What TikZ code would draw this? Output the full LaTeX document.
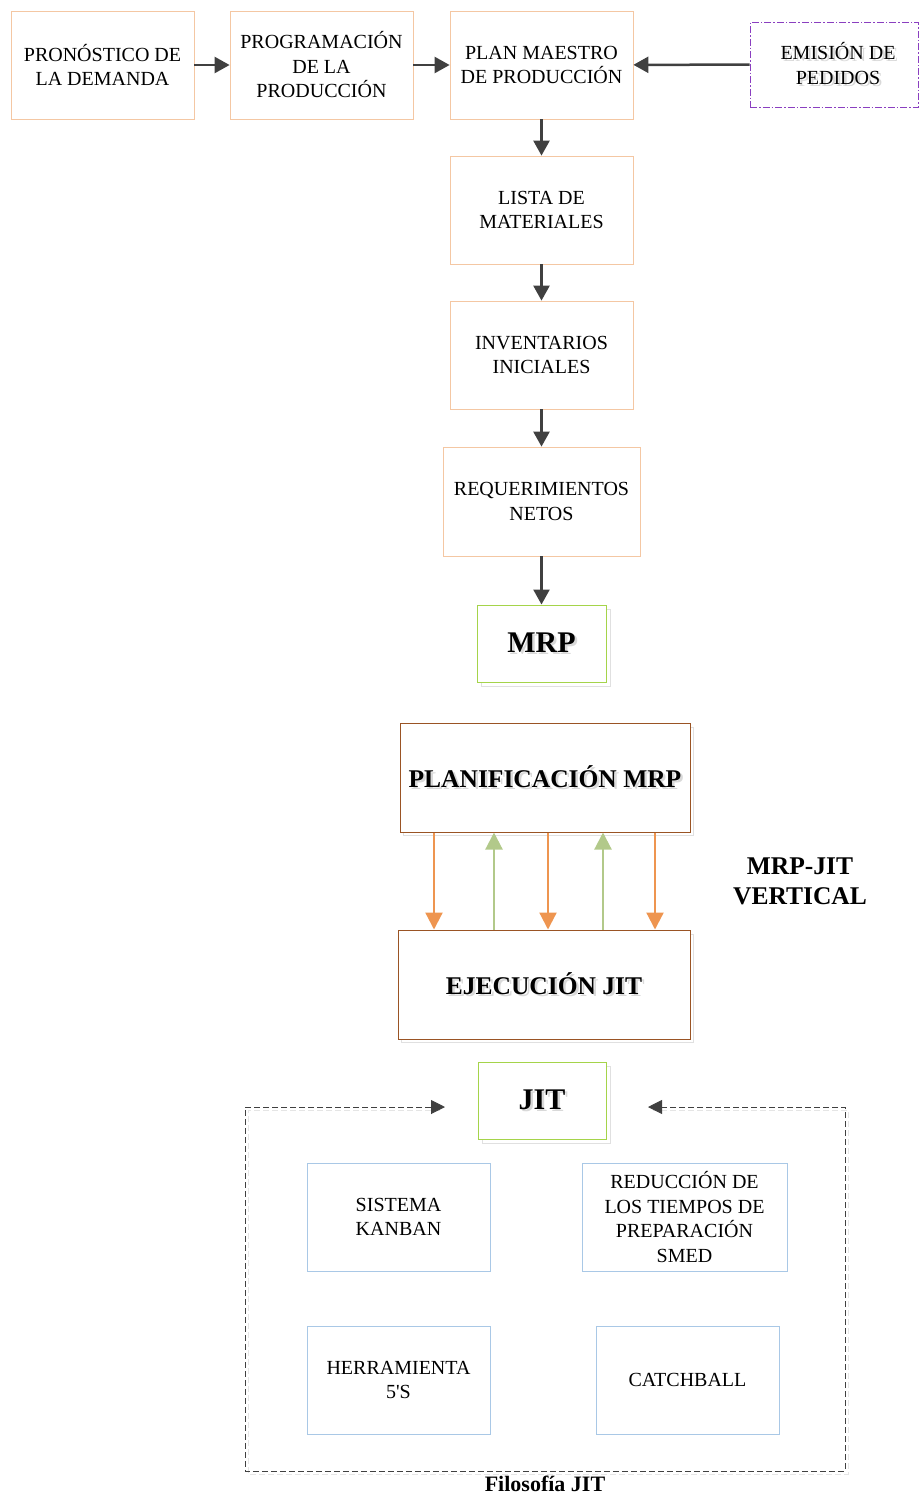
\documentclass[tikz,border=0pt]{standalone}
\usepackage{fontspec}
\setmainfont{Liberation Serif}
\usetikzlibrary{arrows.meta}
\definecolor{peach}{HTML}{F4C7A3}
\definecolor{brownb}{HTML}{9A5424}
\definecolor{greenb}{HTML}{A5D44A}
\definecolor{orangea}{HTML}{EE9550}
\definecolor{greena}{HTML}{B2C98A}
\definecolor{blueb}{HTML}{A9C8E6}
\definecolor{purpleb}{HTML}{8A3FC0}
\definecolor{darka}{HTML}{404040}
\newcommand\shtxt[1]{\makebox[0pt][l]{\raisebox{-2pt}{\hspace{2.5pt}\textcolor{black!15}{#1}}}#1}
\tikzset{
  base/.style={draw, fill=white, inner sep=0pt, align=center, font=\fontsize{20}{24.5}\selectfont},
  pbox/.style={base, draw=peach, line width=0.8pt},
  bbox/.style={base, draw=blueb, line width=0.8pt},
  brbox/.style={base, draw=brownb, line width=1pt, font=\fontsize{25.5}{30}\selectfont\bfseries},
  gbox/.style={base, draw=greenb, line width=1pt, font=\fontsize{30}{34}\selectfont\bfseries},
  shad/.style={draw=black!12, line width=1pt},
  darr/.style={draw=darka, line width=2.5pt, -{Triangle[length=15pt,width=16pt]}},
  oarr/.style={draw=orangea, line width=2.2pt, -{Triangle[length=17pt,width=17pt]}},
  garr/.style={draw=greena, line width=2.2pt, -{Triangle[length=17pt,width=17pt]}},
  dasharr/.style={draw=darka, line width=0.9pt, dash pattern=on 6pt off 3pt, {Triangle[length=14pt,width=14pt]}-{Triangle[length=14pt,width=14pt]}},
}
\begin{document}
\begin{tikzpicture}[x=1pt,y=-1pt]
\useasboundingbox (0,0) rectangle (920,1497);
% shadows
\draw[shad] (481,609) rectangle (610,686);
\draw[shad] (482,1066) rectangle (610,1143);
\draw[shad] (403,727) rectangle (693,835);
\draw[shad] (401,934) rectangle (693,1042);
\draw[shad, black!10, dash pattern=on 6pt off 3pt] (440,1110) -- (248,1110) -- (248,1474) -- (848,1474) -- (848,1110) -- (653,1110);
% top row
\node[pbox, minimum width=183pt, minimum height=108pt] (pron) at (102.5,65) {PRONÓSTICO DE\\LA DEMANDA};
\node[pbox, minimum width=183pt, minimum height=108pt] (prog) at (321.5,65) {PROGRAMACIÓN\\DE LA\\PRODUCCIÓN};
\node[pbox, minimum width=183pt, minimum height=108pt] (plan) at (541.5,65) {PLAN MAESTRO\\DE PRODUCCIÓN};
\node[base, draw=purpleb, dash pattern=on 7pt off 2pt on 1.5pt off 2pt, line width=0.8pt, minimum width=168pt, minimum height=85pt] (emis) at (834,64.5) {\hspace{8pt}\shtxt{EMISIÓN DE}\\\hspace{8pt}\shtxt{PEDIDOS}};
\node[pbox, minimum width=183pt, minimum height=108pt] (lista) at (541.5,210) {LISTA DE\\MATERIALES};
\node[pbox, minimum width=183pt, minimum height=108pt] (inv) at (541.5,355) {INVENTARIOS\\INICIALES};
\node[pbox, minimum width=197pt, minimum height=109pt] (req) at (541.5,501.5) {REQUERIMIENTOS\\NETOS};
\node[gbox, minimum width=129pt, minimum height=77pt] (mrp) at (541.5,643.5) {\shtxt{MRP}};
\draw[darr] (pron) -- (prog);
\draw[darr] (prog) -- (plan);
\draw[darr] (emis) -- (plan);
\draw[darr] (plan) -- (lista);
\draw[darr] (lista) -- (inv);
\draw[darr] (inv) -- (req);
\draw[darr] (req) -- (mrp);
% MRP-JIT
\node[brbox, minimum width=290pt, minimum height=109pt] (planif) at (545,777.5) {\shtxt{PLANIFICACIÓN MRP}};
\node[brbox, minimum width=292pt, minimum height=109pt] (ejec) at (544,984.5) {\shtxt{EJECUCIÓN JIT}};
\draw[oarr] (planif.south -| 434,0) -- (ejec.north -| 434,0);
\draw[oarr] (planif.south -| 548,0) -- (ejec.north -| 548,0);
\draw[oarr] (planif.south -| 655,0) -- (ejec.north -| 655,0);
\draw[garr] (ejec.north -| 494,0) -- (planif.south -| 494,0);
\draw[garr] (ejec.north -| 603,0) -- (planif.south -| 603,0);
\node[font=\fontsize{25.5}{30}\selectfont\bfseries, align=center, inner sep=0pt] (vert) at (800,881) {MRP-JIT\\VERTICAL};
% JIT
\node[gbox, minimum width=128pt, minimum height=77pt] (jit) at (542,1100.5) {\shtxt{JIT}};
\coordinate (jl) at (445,1107);
\coordinate (jr) at (648,1107);
\draw[dasharr] (jl) -- (245,1107) -- (245,1471) -- (845,1471) -- (845,1107) -- (jr);
\node[bbox, minimum width=183pt, minimum height=108pt] (kanban) at (398.5,1217) {SISTEMA\\KANBAN};
\node[bbox, minimum width=205pt, minimum height=108pt] (smed) at (684.5,1217) {REDUCCIÓN DE\\LOS TIEMPOS DE\\PREPARACIÓN\\SMED};
\node[bbox, minimum width=183pt, minimum height=108pt] (herr) at (398.5,1380) {HERRAMIENTA\\5\textquotesingle S};
\node[bbox, minimum width=183pt, minimum height=108pt] (catch) at (687.5,1380) {CATCHBALL};
\node[font=\fontsize{22}{26}\selectfont\bfseries, inner sep=0pt] (filo) at (545,1484) {Filosofía JIT};
\end{tikzpicture}
\end{document}
